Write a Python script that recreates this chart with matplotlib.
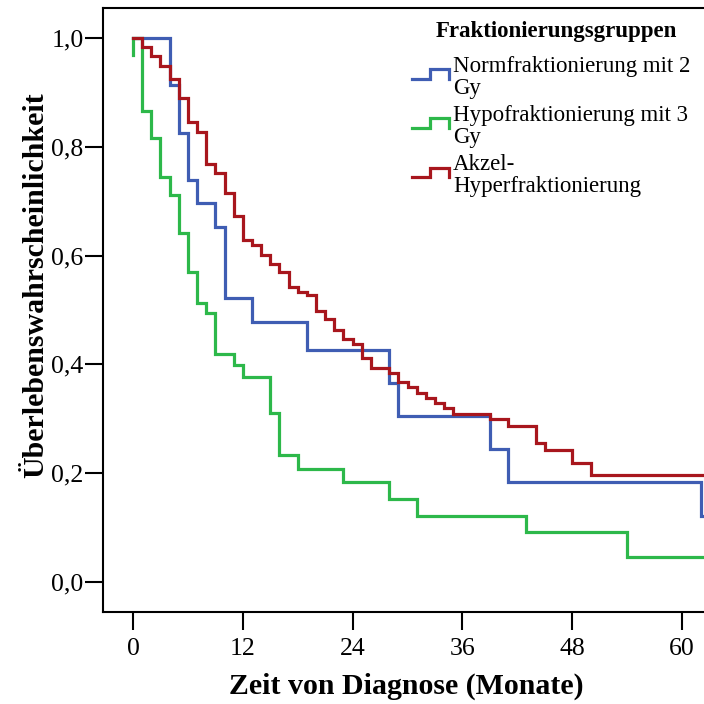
import matplotlib
matplotlib.use("Agg")
import matplotlib.pyplot as plt
from matplotlib.lines import Line2D
from matplotlib.legend_handler import HandlerBase
from matplotlib.ticker import FuncFormatter

plt.rcParams['font.family'] = ['Liberation Serif', 'DejaVu Serif']

# --- Kaplan-Meier Stufen (Monate, Überlebenswahrscheinlichkeit) ---
norm_t = [0, 4, 5, 6, 7, 9, 10, 13, 19, 28, 29, 39, 41, 62.1, 64]
norm_s = [1.0, 0.913, 0.826, 0.739, 0.696, 0.652, 0.522, 0.478, 0.427,
          0.366, 0.305, 0.244, 0.183, 0.122, 0.122]

hypo_t = [0, 0, 1, 2, 3, 4, 5, 6, 7, 8, 9, 11, 12, 15, 16, 18, 23, 28,
          31, 43, 54, 64]
hypo_s = [0.968, 1.0, 0.865, 0.816, 0.745, 0.711, 0.642, 0.570, 0.513,
          0.495, 0.420, 0.398, 0.377, 0.310, 0.234, 0.207, 0.183, 0.152,
          0.121, 0.092, 0.046, 0.046]

akzel_t = [0, 1, 2, 3, 4, 5, 6, 7, 8, 9, 10, 11, 12, 13, 14, 15, 16, 17,
           18, 19, 20, 21, 22, 23, 24, 25, 26, 28, 29, 30, 31, 32, 33, 34,
           35, 39, 41, 44, 45, 48, 50, 64]
akzel_s = [1.0, 0.983, 0.967, 0.949, 0.924, 0.889, 0.846, 0.828, 0.769,
           0.752, 0.716, 0.672, 0.629, 0.619, 0.602, 0.585, 0.569, 0.543,
           0.533, 0.527, 0.498, 0.483, 0.463, 0.446, 0.438, 0.411, 0.393,
           0.385, 0.367, 0.358, 0.348, 0.338, 0.329, 0.320, 0.309, 0.299,
           0.286, 0.256, 0.242, 0.219, 0.197, 0.197]

labels = ['Normfraktionierung mit 2\nGy',
          'Hypofraktionierung mit 3\nGy',
          'Akzel-\nHyperfraktionierung']
colors = ['#3F5DB3', '#2DB84A', '#A8161D']
x_ticks = [0, 12, 24, 36, 48, 60]
y_ticks = [0.0, 0.2, 0.4, 0.6, 0.8, 1.0]


class StepIcon(HandlerBase):
    # kleines Treppensymbol wie in SPSS-Legenden
    def create_artists(self, legend, orig_handle, xdescent, ydescent,
                       width, height, fontsize, trans):
        x0 = -xdescent
        y0 = -ydescent + 0.15 * fontsize
        lo, hi = y0 + 0.2 * height, y0 + 0.8 * height
        xm = x0 + 0.5 * width
        xs = [x0, xm, xm, x0 + width, x0 + width]
        ys = [lo, lo, hi, hi, lo]
        ln = Line2D(xs, ys, color=orig_handle.get_color(),
                    lw=orig_handle.get_linewidth(), solid_joinstyle='miter')
        ln.set_transform(trans)
        return [ln]


fig = plt.figure(figsize=(7.04, 7.04), dpi=100)
ax = fig.add_axes([103 / 704, 92 / 704, 601 / 704, 604 / 704])

handles = []
for t, s, c, lab in zip([norm_t, hypo_t, akzel_t], [norm_s, hypo_s, akzel_s],
                        colors, labels):
    ln, = ax.step(t, s, where='post', color=c, lw=2.3, label=lab,
                  solid_joinstyle='miter')
    handles.append(ln)

ax.set_xlim(-3.28, 62.4)
ax.set_ylim(-0.0553, 1.0553)
ax.set_xticks(x_ticks)
ax.set_yticks(y_ticks)
ax.yaxis.set_major_formatter(FuncFormatter(lambda v, p: f'{v:.1f}'.replace('.', ',')))
ax.tick_params(axis='both', length=13, width=1.5, labelsize=18.5, color='black')
ax.tick_params(axis='y', pad=1)
ax.tick_params(axis='x', pad=6)
for side in ['left', 'bottom', 'top']:
    ax.spines[side].set_linewidth(1.5)
ax.spines['right'].set_visible(False)

ax.set_xlabel('Zeit von Diagnose (Monate)', fontsize=21.5, fontweight='bold')
ax.set_ylabel('Überlebenswahrscheinlichkeit', fontsize=21.5, fontweight='bold')
ax.xaxis.set_label_coords(0.505, -0.1)
ax.yaxis.set_label_coords(-0.09, 0.542)

# Legendentitel separat, damit der Abstand zu den Einträgen stimmt
fig.text(556 / 704, 1 - 37 / 704, 'Fraktionierungsgruppen', ha='center',
         va='baseline', fontsize=16.5, fontweight='bold')

leg = fig.legend(handles=handles, labels=labels,
                 handler_map={Line2D: StepIcon()},
                 loc='upper left', bbox_to_anchor=(412 / 704, 1 - 56 / 704),
                 bbox_transform=fig.transFigure, frameon=False,
                 fontsize=16.5, handlelength=1.6, handleheight=0.7,
                 handletextpad=0.2, labelspacing=0.28,
                 borderpad=0, borderaxespad=0)
for txt in leg.get_texts():
    txt.set_linespacing(1.05)

fig.savefig('out.png', dpi=100)
